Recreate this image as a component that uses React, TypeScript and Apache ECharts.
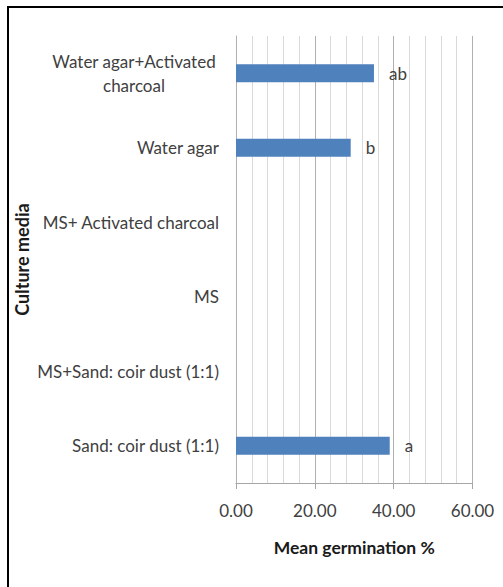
import React, { useEffect, useRef } from "react";
import * as echarts from "echarts";

// Culture media, listed top to bottom
const categories = [
  "Water agar+Activated charcoal",
  "Water agar",
  "MS+ Activated charcoal",
  "MS",
  "MS+Sand: coir dust (1:1)",
  "Sand: coir dust (1:1)",
];
// Mean germination (%) for each medium
const germination = [35.0, 29.1, 0, 0, 0, 39.0];
// Significance letters shown beside the bars
const letters = ["ab", "b", "", "", "", "a"];
const xTicks = [0, 20, 40, 60];

const FONT = "Lato";
const TEXT = "#404040";

export default function App() {
  const ref = useRef<HTMLDivElement>(null);

  useEffect(() => {
    document.body.style.margin = "0";
    const chart = echarts.init(ref.current!, null, { renderer: "svg" });
    chart.setOption({
      animation: false,
      backgroundColor: "#ffffff",
      textStyle: { fontFamily: FONT, color: TEXT },
      graphic: [
        {
          type: "line",
          shape: { x1: 7, y1: 7, x2: 503, y2: 7 },
          style: { stroke: "#000000", lineWidth: 2 },
          silent: true,
        },
        {
          type: "line",
          shape: { x1: 8, y1: 6, x2: 8, y2: 587 },
          style: { stroke: "#000000", lineWidth: 2 },
          silent: true,
        },
      ],
      grid: { left: 236, top: 36, right: 30.5, bottom: 104 },
      xAxis: {
        type: "value",
        min: xTicks[0],
        max: xTicks[xTicks.length - 1],
        interval: 20,
        name: "Mean germination %",
        nameLocation: "middle",
        nameGap: 55,
        nameTextStyle: { fontFamily: FONT, fontSize: 17.5, fontWeight: "bold", color: "#1a1a1a" },
        axisLine: { show: true, lineStyle: { color: "#a6a6a6", width: 1 } },
        axisTick: { show: true, length: 6, lineStyle: { color: "#a6a6a6" } },
        axisLabel: {
          margin: 19,
          fontFamily: FONT,
          fontSize: 17,
          color: TEXT,
          formatter: (v: number) => v.toFixed(2),
        },
        splitLine: { show: true, lineStyle: { color: "#b0b0b0", width: 1 } },
        minorTick: { show: false, splitNumber: 5 },
        minorSplitLine: { show: true, lineStyle: { color: "#d9d9d9", width: 1 } },
      },
      yAxis: {
        type: "category",
        data: categories,
        inverse: true,
        name: "Culture media",
        nameLocation: "middle",
        nameRotate: 90,
        nameGap: 205,
        nameTextStyle: { fontFamily: FONT, fontSize: 18, fontWeight: "bold", color: "#1a1a1a" },
        axisLine: { show: true, lineStyle: { color: "#b0b0b0", width: 1 } },
        axisTick: { show: false },
        axisLabel: {
          margin: 17,
          fontFamily: FONT,
          fontSize: 17,
          color: TEXT,
          formatter: (v: string) =>
            v === categories[0]
              ? "{c|Water agar+Activated}\n{c|charcoal}"
              : v,
          rich: {
            c: {
              fontFamily: FONT,
              fontSize: 17,
              color: TEXT,
              width: 170,
              align: "center",
              lineHeight: 24,
            },
          },
        },
      },
      series: [
        {
          type: "bar",
          data: germination,
          barWidth: 18,
          itemStyle: { color: "#4f81bd" },
          label: {
            show: true,
            position: "right",
            distance: 15,
            fontFamily: FONT,
            fontSize: 17,
            color: TEXT,
            formatter: (p: any) => letters[p.dataIndex],
          },
        },
      ],
    });
    return () => chart.dispose();
  }, []);

  return <div ref={ref} style={{ width: 503, height: 587 }} />;
}
